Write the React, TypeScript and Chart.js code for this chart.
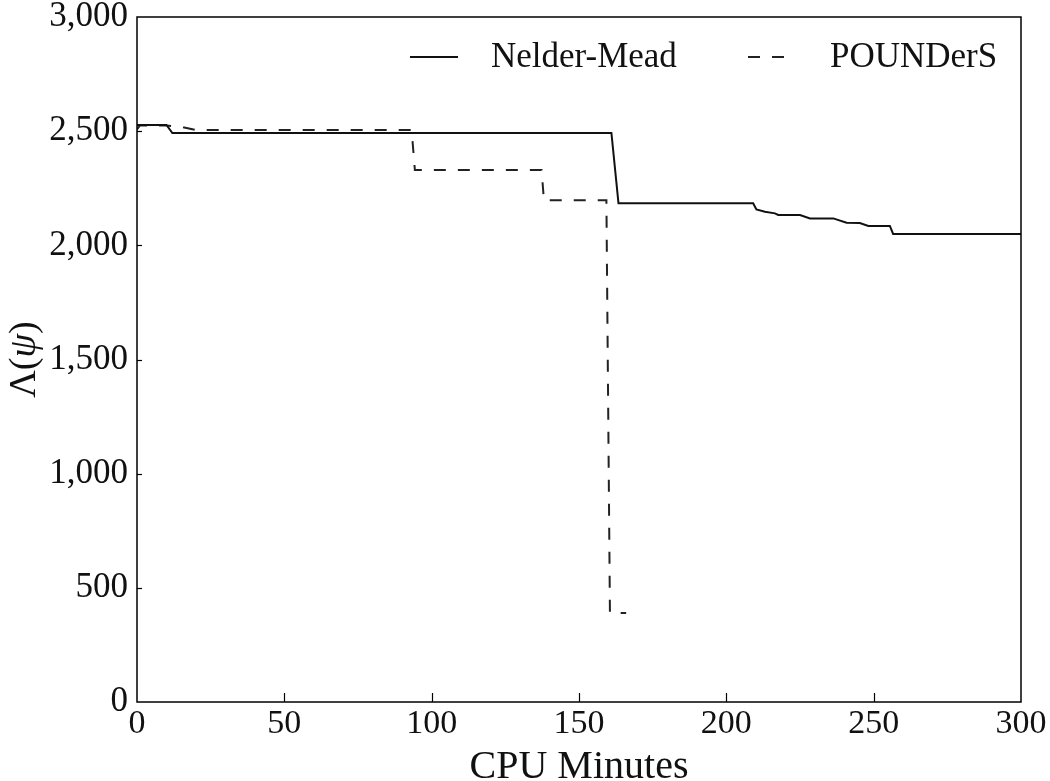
import React, { useEffect, useRef } from "react";
import { Chart, registerables } from "chart.js";

Chart.register(...registerables);

const nelderMinutes = [0, 10, 12, 161, 163.4, 209.1, 210.2, 213.1, 216.5, 217.6, 225, 228.4, 236.3, 240.8, 245.3, 248.2, 255.5, 256.6, 300];
const nelderValues = [2527, 2527, 2492, 2492, 2184, 2184, 2157, 2147, 2140, 2133, 2133, 2118, 2118, 2099, 2098, 2085, 2085, 2050, 2050];

const poundersMinutes = [0, 1, 10, 16, 20, 93.2, 94.3, 137.3, 138.1, 159.3, 160.5, 166];
const poundersValues = [2508, 2525, 2525, 2516, 2505, 2505, 2330, 2330, 2197, 2197, 390, 390];

const seriesLabels = ["Nelder-Mead", "POUNDerS"];
const xTickValues = [0, 50, 100, 150, 200, 250, 300];
const yTickValues = [0, 500, 1000, 1500, 2000, 2500, 3000];
const yTitleParts = ["Λ(", "ψ", ")"];

const FONT = "'Liberation Serif', 'Times New Roman', serif";

const framePlugin = {
  id: "frameAndLegend",
  afterDatasetsDraw(chart: any) {
    const { ctx, chartArea: a, scales } = chart;
    ctx.save();
    ctx.strokeStyle = "#000";
    ctx.lineWidth = 1.5;
    ctx.setLineDash([]);
    ctx.strokeRect(a.left, a.top, a.right - a.left, a.bottom - a.top);
    ctx.lineWidth = 1.2;
    scales.x.ticks.forEach((t: any) => {
      if (t.value <= 0 || t.value >= 300) return;
      const px = Math.round(scales.x.getPixelForValue(t.value)) + 0.5;
      ctx.beginPath();
      ctx.moveTo(px, a.bottom);
      ctx.lineTo(px, a.bottom - 9);
      ctx.stroke();
    });
    scales.y.ticks.forEach((t: any) => {
      if (t.value <= 0 || t.value >= 3000) return;
      const py = Math.round(scales.y.getPixelForValue(t.value)) + 0.5;
      ctx.beginPath();
      ctx.moveTo(a.left, py);
      ctx.lineTo(a.left + 5, py);
      ctx.stroke();
    });
    // legend inside plot area
    const starts = [a.right - 611, a.right - 273];
    const ly = a.top + 40;
    chart.data.datasets.forEach((ds: any, i: number) => {
      const x0 = starts[i];
      ctx.strokeStyle = ds.borderColor;
      ctx.lineWidth = ds.borderWidth;
      ctx.setLineDash(ds.borderDash || []);
      ctx.beginPath();
      ctx.moveTo(x0, ly);
      ctx.lineTo(x0 + (i === 0 ? 48 : 42), ly);
      ctx.stroke();
      ctx.setLineDash([]);
      ctx.fillStyle = "#111";
      ctx.font = `35px ${FONT}`;
      ctx.textAlign = "left";
      ctx.textBaseline = "middle";
      ctx.fillText(ds.label, x0 + (i === 0 ? 81 : 82), ly + 1);
    });
    // y axis title with italic psi
    const fonts = [`38px ${FONT}`, `italic 38px ${FONT}`, `38px ${FONT}`];
    let total = 0;
    const widths = yTitleParts.map((p, i) => {
      ctx.font = fonts[i];
      const w = ctx.measureText(p).width;
      total += w;
      return w;
    });
    ctx.translate(25, (a.top + a.bottom) / 2);
    ctx.rotate(-Math.PI / 2);
    ctx.fillStyle = "#111";
    ctx.textAlign = "left";
    ctx.textBaseline = "middle";
    let cx = -total / 2;
    yTitleParts.forEach((p, i) => {
      ctx.font = fonts[i];
      ctx.fillText(p, cx, 0);
      cx += widths[i];
    });
    ctx.restore();
  },
};

export default function App() {
  const ref = useRef<HTMLCanvasElement | null>(null);
  useEffect(() => {
    if (!ref.current) return;
    const chart = new Chart(ref.current, {
      type: "line",
      data: {
        datasets: [
          {
            label: seriesLabels[0],
            data: nelderMinutes.map((x, i) => ({ x, y: nelderValues[i] })),
            borderColor: "#111",
            borderWidth: 2,
            pointRadius: 0,
            tension: 0,
            fill: false,
          },
          {
            label: seriesLabels[1],
            data: poundersMinutes.map((x, i) => ({ x, y: poundersValues[i] })),
            borderColor: "#222",
            borderWidth: 2,
            borderDash: [12, 12],
            pointRadius: 0,
            tension: 0,
            fill: false,
          },
        ],
      },
      options: {
        responsive: false,
        animation: false,
        layout: { padding: { top: 17, right: 29, left: 0, bottom: 0 } },
        plugins: { legend: { display: false }, tooltip: { enabled: false } },
        scales: {
          x: {
            type: "linear",
            min: 0,
            max: 300,
            afterBuildTicks: (s: any) => {
              s.ticks = xTickValues.map((v) => ({ value: v }));
            },
            afterFit: (s: any) => {
              s.height = 79;
              s.paddingLeft = 0;
              s.paddingRight = 0;
            },
            grid: { display: false, drawTicks: false },
            border: { display: false },
            ticks: {
              color: "#111",
              font: { family: FONT, size: 34 },
              padding: 2,
              maxRotation: 0,
              callback: (v: any) => String(v),
            },
            title: {
              display: true,
              text: "CPU Minutes",
              color: "#111",
              font: { family: FONT, size: 40, lineHeight: 1 },
              padding: { top: 0, bottom: -6 },
            },
          },
          y: {
            type: "linear",
            min: 0,
            max: 3000,
            afterBuildTicks: (s: any) => {
              s.ticks = yTickValues.map((v) => ({ value: v }));
            },
            afterFit: (s: any) => {
              s.width = 137;
              s.paddingTop = 0;
              s.paddingBottom = 0;
            },
            grid: { display: false, drawTicks: false },
            border: { display: false },
            ticks: {
              color: "#111",
              font: { family: FONT, size: 35 },
              padding: 9,
              callback: (v: any) => Number(v).toLocaleString("en-US"),
            },
          },
        },
      },
      plugins: [framePlugin],
    });
    return () => chart.destroy();
  }, []);
  return (
    <div style={{ position: "fixed", left: 0, top: 0, width: 1050, height: 781, background: "#fff" }}>
      <canvas ref={ref} width={1050} height={781} />
    </div>
  );
}
